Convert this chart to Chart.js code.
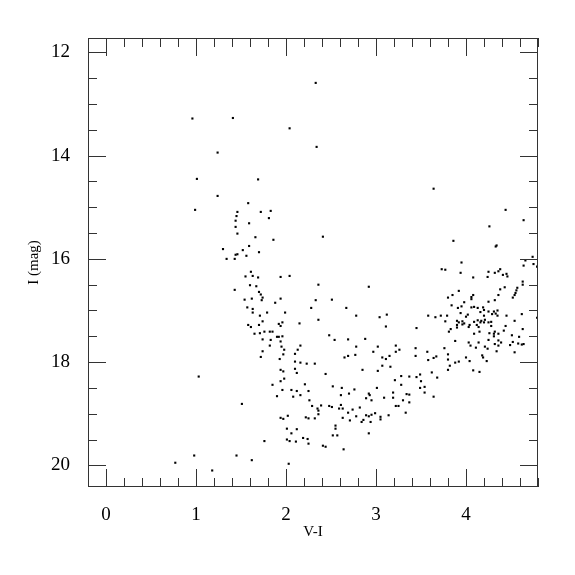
<!DOCTYPE html>
<html>
<head>
<meta charset="utf-8">
<script src="https://cdn.jsdelivr.net/npm/chart.js@4.4.1/dist/chart.umd.min.js"></script>
<style>
  html, body { margin: 0; padding: 0; background: #fff; }
  #cmd { display: block; }
</style>
</head>
<body>
<canvas id="cmd" width="575" height="575"></canvas>
<script>
// V-I colour of each star
const vMinusI = [
  0.96, 1.41, 1.24, 1.01, 2.33, 2.04, 2.34, 1.69, 1.24, 0.99,
  1.46, 1.45, 1.44, 1.44, 1.46, 1.30, 1.44, 1.46, 1.34, 1.43,
  1.43, 1.58, 1.72, 1.83, 1.81, 1.59, 1.66, 1.86, 2.41, 1.59,
  1.52, 1.70, 1.56, 1.61, 1.55, 1.63, 1.69, 1.94, 2.04, 1.60,
  1.67, 2.36, 2.92, 1.70, 1.72, 1.74, 1.54, 1.62, 1.73, 1.94,
  2.33, 2.51, 1.88, 1.57, 1.63, 2.28, 2.67, 1.63, 1.79, 1.99,
  1.71, 2.78, 3.04, 3.12, 1.74, 1.96, 2.36, 1.58, 1.70, 1.92,
  1.94, 2.15, 1.61, 3.11, 1.76, 1.82, 1.85, 1.65, 1.71, 2.48,
  1.90, 1.92, 1.96,
  // red side
  3.64, 4.44, 4.64, 4.26, 3.86, 4.33, 4.34, 4.74, 4.66, 3.95,
  4.75, 4.79, 4.64, 3.73, 3.77, 3.94, 4.25, 4.24, 4.08, 4.32,
  4.36, 4.38, 4.41, 4.45, 4.46, 4.63, 4.63, 4.43, 4.57, 4.56,
  4.55, 4.54, 4.52, 4.38, 4.25, 4.36, 4.32, 3.92, 3.85, 3.80,
  4.08, 4.06, 4.06, 3.98, 3.84, 3.95, 3.91, 4.06, 4.09, 4.13,
  4.19, 4.20, 4.16, 3.94, 4.02, 4.00, 4.25, 4.31, 4.35, 4.29,
  4.33, 4.35, 4.20, 4.45, 4.62, 4.79, 3.58, 3.66, 3.72, 3.79,
  3.77, 3.90, 3.92, 3.96, 3.96, 3.98, 3.90, 3.90, 3.83, 3.81,
  4.04, 4.03, 4.09, 4.13, 4.17, 4.16, 4.12, 4.14, 4.21, 4.20,
  4.25, 4.28, 4.28, 4.15, 4.09, 4.26, 4.31, 4.32, 4.36, 4.31,
  4.42, 4.44, 4.54, 4.63, 4.51, 4.59, 3.45,
  // faint blue stragglers
  1.03, 0.77, 0.98, 1.45, 1.18,
  // faint middle
  1.74, 1.83, 1.94, 2.54, 2.69, 2.88, 2.16, 1.82, 1.95, 1.98,
  2.13, 1.74, 2.78, 3.02, 1.97, 2.10, 1.72, 1.93, 2.65, 2.69,
  2.77, 2.97, 3.07, 3.11, 2.10, 2.16, 2.23, 2.32, 3.07, 2.10,
  1.94, 1.97, 2.12, 2.85, 3.02, 2.44, 1.98, 1.94, 1.85, 2.21,
  2.52, 2.62, 2.76, 3.01, 1.96, 2.06, 2.12, 2.25, 2.61, 2.70,
  2.92, 2.93, 1.90, 2.08, 2.16, 2.89, 2.95, 3.09, 2.26, 1.51,
  2.29, 2.39, 2.48, 2.51, 2.59, 2.61, 2.63, 2.35, 2.36, 2.36,
  2.74, 2.82, 2.69, 1.94, 1.97, 2.02, 2.22, 2.25, 2.32, 2.63,
  2.71, 2.78, 2.86, 2.89, 2.92, 2.95, 2.94, 2.99, 3.05, 3.05,
  2.84, 2.01, 2.12, 2.06, 2.55, 2.55, 2.52, 2.57, 2.92, 2.01,
  2.04, 2.11, 2.19, 2.24, 2.25, 1.76, 2.41, 2.44, 2.64, 1.62,
  2.03,
  // faint red
  3.22, 3.22, 3.26, 3.15, 3.16, 3.44, 3.44, 3.57, 3.58, 3.64,
  3.67, 3.76, 3.80, 3.80, 3.82, 3.80, 3.88, 3.88, 3.92, 3.62,
  3.68, 4.03, 4.05, 4.11, 4.14, 4.21, 4.24, 4.25, 4.32, 4.36,
  4.36, 4.39, 4.34, 4.49, 4.52, 4.54, 4.58, 4.62, 4.64, 4.00,
  4.04, 4.18, 4.19, 4.23, 4.08, 4.15, 3.21, 3.28, 3.37, 3.45,
  3.49, 3.50, 3.28, 3.49, 3.54, 3.54, 3.19, 3.19, 3.34, 3.37,
  3.30, 3.37, 3.64, 3.22, 3.25, 3.33, 3.14
];

// I magnitude, same order
const iMag = [
  13.28, 13.27, 13.94, 14.45, 12.59, 13.47, 13.83, 14.46, 14.78, 15.05,
  15.09, 15.17, 15.26, 15.38, 15.51, 15.81, 15.92, 15.91, 16.00, 16.00,
  16.60, 14.92, 15.09, 15.07, 15.21, 15.31, 15.58, 15.63, 15.57, 15.75,
  15.83, 15.87, 15.94, 16.25, 16.34, 16.33, 16.36, 16.35, 16.33, 16.51,
  16.53, 16.50, 16.54, 16.64, 16.69, 16.75, 16.79, 16.77, 16.80, 16.77,
  16.80, 16.79, 16.85, 16.94, 16.97, 16.95, 16.95, 17.04, 17.04, 17.04,
  17.10, 17.10, 17.13, 17.08, 17.21, 17.23, 17.18, 17.28, 17.28, 17.26,
  17.30, 17.25, 17.32, 17.31, 17.41, 17.41, 17.41, 17.45, 17.44, 17.48,
  17.51, 17.51, 17.50,
  // red side
  14.64, 15.05, 15.25, 15.37, 15.65, 15.76, 15.74, 15.96, 16.03, 16.07,
  16.10, 16.15, 16.13, 16.20, 16.21, 16.27, 16.25, 16.35, 16.36, 16.27,
  16.24, 16.20, 16.31, 16.29, 16.34, 16.44, 16.50, 16.55, 16.56, 16.61,
  16.66, 16.70, 16.75, 16.59, 16.83, 16.70, 16.80, 16.62, 16.70, 16.75,
  16.70, 16.74, 16.78, 16.84, 16.90, 16.92, 16.95, 16.94, 16.93, 16.95,
  16.94, 16.99, 17.03, 17.05, 17.08, 17.12, 17.02, 17.02, 17.00, 17.07,
  17.06, 17.10, 17.10, 17.10, 17.07, 17.14, 17.10, 17.13, 17.10, 17.10,
  17.21, 17.20, 17.23, 17.21, 17.27, 17.25, 17.28, 17.33, 17.36, 17.41,
  17.28, 17.32, 17.22, 17.19, 17.20, 17.23, 17.28, 17.32, 17.18, 17.23,
  17.23, 17.22, 17.30, 17.41, 17.45, 17.44, 17.45, 17.41, 17.45, 17.50,
  17.39, 17.30, 17.20, 17.36, 17.48, 17.51, 17.34,
  // faint blue stragglers
  18.28, 19.95, 19.81, 19.81, 20.10,
  // faint middle
  17.56, 17.57, 17.60, 17.57, 17.56, 17.55, 17.68, 17.68, 17.70, 17.76,
  17.76, 17.79, 17.70, 17.70, 17.85, 17.84, 17.90, 17.94, 17.91, 17.88,
  17.86, 17.80, 17.91, 17.94, 17.99, 18.01, 18.03, 18.03, 18.07, 18.13,
  18.15, 18.18, 18.21, 18.15, 18.17, 18.23, 18.32, 18.37, 18.44, 18.43,
  18.47, 18.50, 18.53, 18.50, 18.54, 18.54, 18.56, 18.56, 18.64, 18.61,
  18.61, 18.64, 18.66, 18.67, 18.64, 18.70, 18.74, 18.69, 18.74, 18.81,
  18.85, 18.84, 18.85, 18.87, 18.90, 18.83, 18.90, 18.90, 18.94, 19.01,
  18.92, 18.88, 18.98, 19.08, 19.10, 19.04, 19.07, 19.09, 19.09, 19.08,
  19.13, 19.05, 19.12, 19.03, 19.05, 19.02, 19.16, 18.99, 19.06, 19.11,
  19.16, 19.29, 19.30, 19.38, 19.23, 19.29, 19.42, 19.42, 19.38, 19.50,
  19.53, 19.54, 19.47, 19.49, 19.58, 19.53, 19.62, 19.64, 19.69, 19.90,
  19.97,
  // faint red
  17.68, 17.80, 17.76, 17.88, 18.09, 17.73, 17.88, 17.80, 17.96, 17.92,
  17.89, 17.73, 17.85, 17.95, 18.07, 18.15, 17.59, 18.01, 17.99, 18.20,
  18.30, 17.62, 17.68, 17.72, 17.62, 17.70, 17.74, 17.57, 17.65, 17.58,
  17.68, 17.62, 17.79, 17.67, 17.61, 17.81, 17.64, 17.66, 17.65, 17.91,
  17.98, 17.87, 17.91, 17.98, 18.16, 18.19, 18.35, 18.27, 18.28, 18.29,
  18.24, 18.37, 18.44, 18.50, 18.48, 18.59, 18.59, 18.69, 18.62, 18.63,
  18.74, 18.78, 18.67, 18.85, 18.85, 18.98, 19.03
];

const xTicks = [0, 1, 2, 3, 4];
const yTicks = [12, 14, 16, 18, 20];

if (vMinusI.length !== iMag.length) console.error("length mismatch", vMinusI.length, iMag.length);

const serif = "'Liberation Serif', 'DejaVu Serif', serif";
const ink = "#333";

const points = vMinusI.map((v, i) => ({ x: v, y: iMag[i] }));

// inward ticks on all four sides plus the box
const frameTicks = {
  id: "frameTicks",
  afterDatasetsDraw(chart) {
    const { ctx, chartArea: a, scales: { x, y } } = chart;
    const MAJOR = 18, MINOR = 9;
    ctx.save();
    ctx.strokeStyle = ink;
    ctx.lineWidth = 1;
    ctx.beginPath();
    for (let i = -1; i <= 24; i++) {
      const px = Math.round(x.getPixelForValue(i * 0.2)) + 0.5;
      const len = i % 5 === 0 ? MAJOR : MINOR;
      ctx.moveTo(px, a.bottom); ctx.lineTo(px, a.bottom - len);
      ctx.moveTo(px, a.top); ctx.lineTo(px, a.top + len);
    }
    for (let i = 24; i <= 40; i++) {
      const v = i * 0.5;
      const py = Math.round(y.getPixelForValue(v)) + 0.5;
      const len = i % 4 === 0 ? MAJOR : MINOR;
      ctx.moveTo(a.left, py); ctx.lineTo(a.left + len, py);
      ctx.moveTo(a.right, py); ctx.lineTo(a.right - len, py);
    }
    ctx.stroke();
    ctx.strokeRect(a.left + 0.5, a.top + 0.5, a.right - a.left - 1, a.bottom - a.top - 1);
    ctx.restore();
  }
};

new Chart(document.getElementById("cmd"), {
  type: "scatter",
  data: {
    datasets: [{
      data: points,
      pointStyle: "rect",
      pointRadius: 1.5,
      pointHoverRadius: 1.5,
      backgroundColor: "#000",
      borderWidth: 0
    }]
  },
  options: {
    responsive: false,
    animation: false,
    events: [],
    layout: { padding: { top: 38, right: 37, left: 0, bottom: 0 } },
    plugins: { legend: { display: false }, tooltip: { enabled: false } },
    scales: {
      x: {
        type: "linear",
        min: -0.2,
        max: 4.8,
        grid: { display: false },
        border: { display: false },
        afterBuildTicks: (s) => { s.ticks = xTicks.map(v => ({ value: v })); },
        afterFit: (s) => { s.height = 88; },
        ticks: { padding: 9, color: "#000", font: { family: serif, size: 19 } },
        title: { display: true, text: "V-I", color: "#000", padding: { top: 0, bottom: 34 }, font: { family: serif, size: 15 } }
      },
      y: {
        type: "linear",
        reverse: true,
        min: 11.72,
        max: 20.42,
        grid: { display: false },
        border: { display: false },
        afterBuildTicks: (s) => { s.ticks = yTicks.map(v => ({ value: v })); },
        afterFit: (s) => { s.width = 88; },
        ticks: { padding: 10, color: "#000", font: { family: serif, size: 19 } },
        title: { display: true, text: "I (mag)", color: "#000", padding: { top: 25, bottom: 0 }, font: { family: serif, size: 15 } }
      }
    }
  },
  plugins: [frameTicks]
});
</script>
</body>
</html>
